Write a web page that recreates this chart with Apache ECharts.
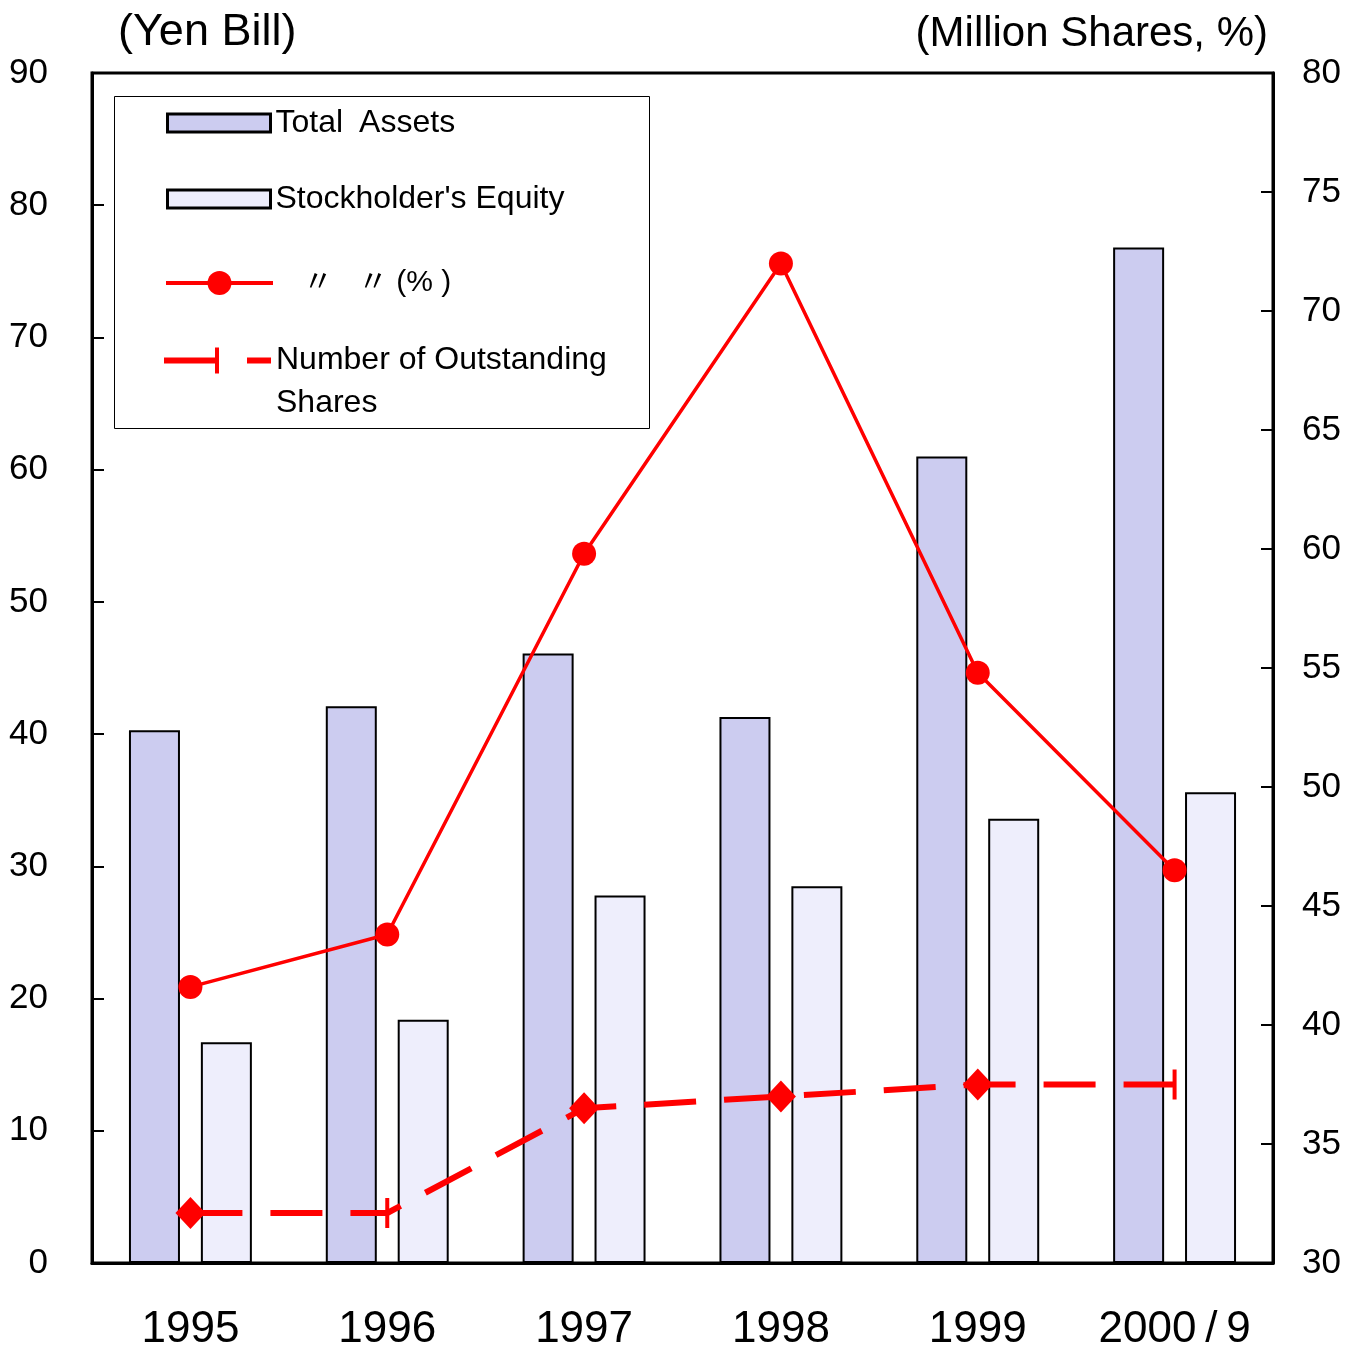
<!DOCTYPE html>
<html>
<head>
<meta charset="utf-8">
<script src="https://cdn.jsdelivr.net/npm/echarts@6/dist/echarts.min.js"></script>
<style>
  html, body { margin: 0; padding: 0; background: #fff; }
  #chart { width: 1360px; height: 1350px; }
</style>
</head>
<body>
<div id="chart"></div>
<script>
// data
const categories = ["1995", "1996", "1997", "1998", "1999", "2000/9"];
const totalAssets = [40.3, 42.1, 46.1, 41.3, 61.0, 76.8]; // Yen Bill
const equity = [16.7, 18.4, 27.8, 28.5, 33.6, 35.6]; // Yen Bill
const equityRatio = [41.6, 43.8, 59.8, 72.0, 54.8, 46.5]; // %
const shares = [32.1, 32.1, 36.5, 37.0, 37.5, 37.5]; // Million Shares
const leftTicks = { min: 0, max: 90, interval: 10 };
const rightTicks = { min: 30, max: 80, interval: 5 };

const FONT = "'Liberation Sans', Arial, 'Noto Sans CJK JP', sans-serif";
const RED = "#ff0000";
// points of the shares line drawn as a short vertical tick instead of a diamond
const tickPoints = [1, 5];

const chart = echarts.init(document.getElementById("chart"), null, { renderer: "canvas" });

const legendText = { fontSize: 32, fontFamily: FONT, color: "#000" };

const option = {
  animation: false,
  backgroundColor: "#fff",
  textStyle: { fontFamily: FONT, color: "#000" },
  grid: {
    left: 92,
    right: 87,
    top: 73,
    bottom: 87,
    outerBoundsMode: "none",
    containLabel: false,
    show: true,
    borderColor: "#000",
    borderWidth: 3,
    backgroundColor: "transparent",
  },
  // legend box
  graphic: [
    {
      type: "rect",
      left: 114,
      top: 96,
      shape: { width: 535, height: 332 },
      style: { fill: "#fff", stroke: "#000", lineWidth: 1 },
      z: 50,
    },
  ],
  legend: [
    {
      data: ["Total Assets"],
      left: 166,
      top: 107,
      padding: 0,
      icon: "rect",
      itemWidth: 103,
      itemHeight: 18,
      selectedMode: false,
      itemStyle: { borderWidth: 3 },
      formatter: () => "Total\u2002Assets",
      textStyle: legendText,
      z: 60,
    },
    {
      data: ["Stockholder's Equity"],
      left: 166,
      top: 183,
      padding: 0,
      icon: "rect",
      itemWidth: 103,
      itemHeight: 18,
      selectedMode: false,
      itemStyle: { borderWidth: 3 },
      textStyle: legendText,
      z: 60,
    },
    {
      data: ["Equity Ratio"],
      left: 164,
      top: 268,
      padding: 0,
      itemWidth: 107,
      itemHeight: 30,
      selectedMode: false,
      lineStyle: { width: 4 },
      formatter: () => "   \u3003   \u3003 (% )",
      textStyle: { fontSize: 30, fontFamily: FONT, color: "#000" },
      z: 60,
    },
    {
      data: [
        {
          name: "Number of Outstanding Shares",
          icon: "path://M0,10 H54 V16 H0 Z M51,0 H55 V26 H51 Z M83,10 H107 V16 H83 Z",
        },
      ],
      left: 164,
      top: 296,
      padding: 0,
      itemWidth: 107,
      itemHeight: 26,
      selectedMode: false,
      itemStyle: { borderWidth: 0 },
      formatter: () => "\nNumber of Outstanding\nShares",
      textStyle: Object.assign({ lineHeight: 43 }, legendText),
      z: 60,
    },
  ],
  xAxis: {
    type: "category",
    data: categories,
    axisLine: { lineStyle: { color: "#000", width: 3 } },
    axisTick: { inside: true, length: 15, lineStyle: { color: "#000", width: 2 } },
    axisLabel: {
      interval: 0,
      hideOverlap: false,
      fontSize: 44,
      margin: 45,
      color: "#000",
      fontFamily: FONT,
      formatter: (v) => v.replace("/", "\u2009/\u2009"),
    },
    splitLine: { show: false },
  },
  yAxis: [
    {
      type: "value",
      position: "left",
      min: leftTicks.min,
      max: leftTicks.max,
      interval: leftTicks.interval,
      name: "(Yen Bill)",
      nameLocation: "end",
      nameGap: 18,
      nameTextStyle: {
        fontSize: 45,
        color: "#000",
        fontFamily: FONT,
        align: "left",
        padding: [0, 0, 0, 26],
      },
      axisLine: { show: true, lineStyle: { color: "#000", width: 3 } },
      axisTick: { show: true, inside: true, length: 12, lineStyle: { color: "#000", width: 2 } },
      axisLabel: { fontSize: 35, margin: 44, color: "#000", fontFamily: FONT, padding: [14, 0, 0, 0] },
      splitLine: { show: false },
    },
    {
      type: "value",
      position: "right",
      min: rightTicks.min,
      max: rightTicks.max,
      interval: rightTicks.interval,
      name: "(Million Shares, %)",
      nameLocation: "end",
      nameGap: 18,
      nameTextStyle: {
        fontSize: 42,
        color: "#000",
        fontFamily: FONT,
        align: "right",
        padding: [0, 5, 0, 0],
      },
      axisLine: { show: true, lineStyle: { color: "#000", width: 3 } },
      axisTick: { show: true, inside: true, length: 12, lineStyle: { color: "#000", width: 2 } },
      axisLabel: { fontSize: 35, margin: 29, color: "#000", fontFamily: FONT, padding: [14, 0, 0, 0] },
      splitLine: { show: false },
    },
  ],
  series: [
    {
      name: "Total Assets",
      type: "bar",
      yAxisIndex: 0,
      barWidth: 51,
      barGap: "41%",
      itemStyle: { color: "#ccccf0", borderColor: "#000", borderWidth: 2 },
      data: totalAssets,
    },
    {
      name: "Stockholder's Equity",
      type: "bar",
      yAxisIndex: 0,
      barWidth: 51,
      barGap: "41%",
      itemStyle: { color: "#eeeefc", borderColor: "#000", borderWidth: 2 },
      data: equity,
    },
    {
      name: "Number of Outstanding Shares",
      type: "line",
      yAxisIndex: 1,
      data: shares,
      symbol: (v, p) => (tickPoints.includes(p.dataIndex) ? "rect" : "diamond"),
      symbolSize: (v, p) => (tickPoints.includes(p.dataIndex) ? [4, 30] : [30, 32]),
      itemStyle: { color: RED, borderWidth: 0 },
      lineStyle: { color: RED, width: 6, type: [52, 28], cap: "butt" },
      z: 4,
    },
    {
      name: "Equity Ratio",
      type: "line",
      yAxisIndex: 1,
      data: equityRatio,
      symbol: "circle",
      symbolSize: 24,
      itemStyle: { color: RED, borderWidth: 0 },
      lineStyle: { color: RED, width: 3.5 },
      z: 5,
    },
  ],
};

chart.setOption(option);
window.addEventListener("resize", () => chart.resize());
</script>
</body>
</html>
